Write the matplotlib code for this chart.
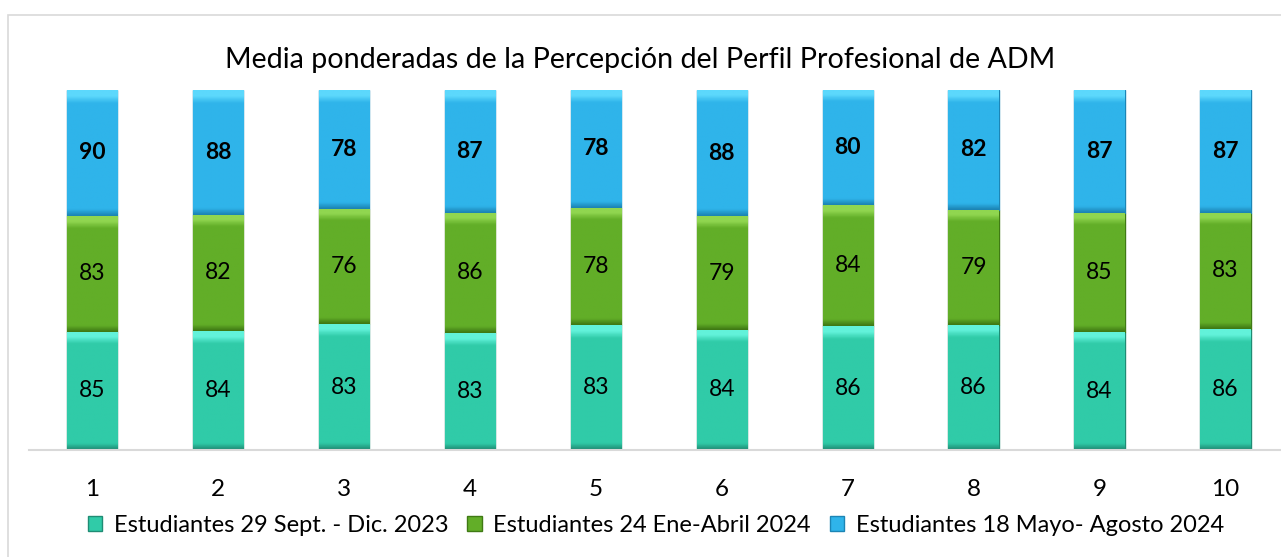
import matplotlib
matplotlib.use("Agg")
from matplotlib import pyplot as plt
from matplotlib.patches import Patch
from matplotlib.colors import LinearSegmentedColormap
import numpy as np

plt.rcParams['font.family'] = ['Lato', 'DejaVu Sans']

# categories and series
grupos = ['1', '2', '3', '4', '5', '6', '7', '8', '9', '10']
sept_dic_2023 = [85, 84, 83, 83, 83, 84, 86, 86, 84, 86]
ene_abril_2024 = [83, 82, 76, 86, 78, 79, 84, 79, 85, 83]
mayo_agosto_2024 = [90, 88, 78, 87, 78, 88, 80, 82, 87, 87]

series = [sept_dic_2023, ene_abril_2024, mayo_agosto_2024]
nombres = ['Estudiantes 29 Sept. - Dic. 2023',
           'Estudiantes 24 Ene-Abril 2024',
           'Estudiantes 18 Mayo- Agosto 2024']
colores = ['#30CBA8', '#62AE28', '#2FB4EA']
luces = ['#62F2DA', '#90D650', '#5CD8FC']
bordes = ['#1F8C74', '#3F7A14', '#1C85B5']
negrita = ['normal', 'normal', 'bold']

fig = plt.figure(figsize=(12.81, 5.57), dpi=100)
ax = fig.add_axes([0.0226, 0.192, 0.9774, 0.646])

x = np.arange(1, len(grupos) + 1)
totales = np.sum(series, axis=0)
ancho = 0.4
base = np.zeros(len(grupos))
grad = np.linspace(0, 1, 100).reshape(-1, 1)
for s, nombre, c, l, b, w in zip(series, nombres, colores, luces, bordes, negrita):
    frac = np.array(s) / totales
    barras = ax.bar(x, frac, ancho, bottom=base, color=c, edgecolor=b,
                    linewidth=1.0, zorder=2)
    cmap = LinearSegmentedColormap.from_list(
        'bevel', [(0, b), (0.05, c), (0.9, c), (0.96, l), (1, l)])
    for r in barras:
        x0, y0 = r.get_x(), r.get_y()
        im = ax.imshow(grad, cmap=cmap, origin='lower', aspect='auto',
                       extent=[x0, x0 + r.get_width(), y0, y0 + r.get_height()],
                       zorder=2.5, interpolation='bilinear')
        im.set_clip_path(r)
    for xi, yi, v in zip(x, base + frac / 2, s):
        ax.text(xi, yi, str(v), ha='center', va='center', fontsize=16.5,
                fontweight=w, color='black', zorder=4)
    base = base + frac

ax.set_xlim(0.5, 10.44)
ax.set_ylim(0, 1)
ax.set_yticks([])
ax.set_xticks(x)
ax.set_xticklabels(grupos, fontsize=17.5)
ax.tick_params(axis='x', length=0, pad=21)
for sp in ['top', 'right', 'left']:
    ax.spines[sp].set_visible(False)
ax.spines['bottom'].set_color('#D9D9D9')
ax.spines['bottom'].set_linewidth(1.5)

fig.text(0.5, 0.893, 'Media ponderadas de la Percepción del Perfil Profesional de ADM',
         ha='center', va='center', fontsize=20.6)

handles = [Patch(facecolor=c, edgecolor=b) for c, b in zip(colores, bordes)]
fig.legend(handles, nombres, loc='center', bbox_to_anchor=(0.512, 0.057), ncol=3,
           frameon=False, fontsize=17, handlelength=0.6, handleheight=0.6,
           handletextpad=0.5, columnspacing=0.8)

# outer frame of the chart area
fig.patches.append(plt.Rectangle((0.0062, -0.01), 1.0, 0.983, transform=fig.transFigure,
                                 fill=False, edgecolor='#D9D9D9', linewidth=1.2))

fig.savefig('out.png', dpi=100)
